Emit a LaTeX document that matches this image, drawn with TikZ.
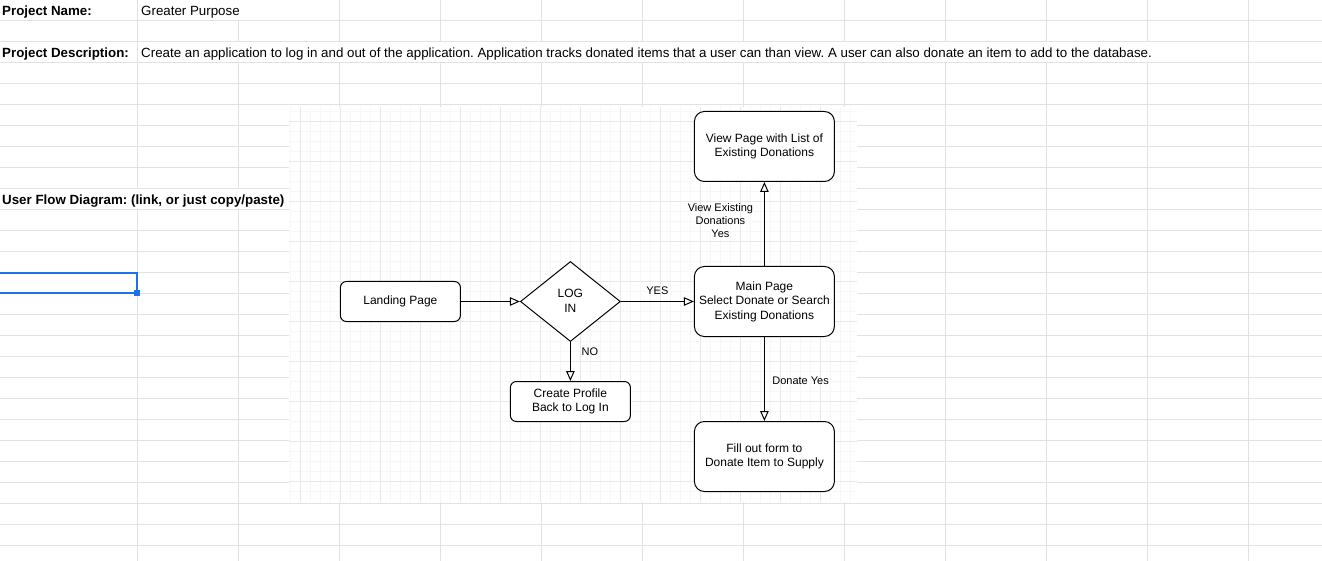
\documentclass[tikz,border=0pt]{standalone}
\usepackage{fontspec}
\setmainfont{Liberation Sans}
\frenchspacing
\usetikzlibrary{arrows.meta,shapes.geometric,positioning}
\definecolor{sheetgrid}{HTML}{E2E2E2}
\definecolor{gridmajor}{HTML}{E8E8E8}
\definecolor{gridminor}{HTML}{F7F7F7}
\definecolor{selblue}{HTML}{1A73E8}
\tikzset{
    page/.style={
        rectangle,
        rounded corners=6pt,
        draw=black,
        line width=1pt,
        fill=white,
        minimum width=120pt,
        minimum height=40pt,
        inner sep=0pt,
        align=center,
        font=\fontsize{12}{14.5}\selectfont,
    },
    bigpage/.style={
        page,
        rounded corners=10pt,
        minimum width=140pt,
        minimum height=70pt,
    },
    decision/.style={
        diamond,
        draw=black,
        line width=1pt,
        fill=white,
        minimum width=100pt,
        minimum height=80pt,
        inner sep=0pt,
        align=center,
        font=\fontsize{12}{15}\selectfont,
    },
    flowlabel/.style={
        inner sep=0pt,
        align=center,
        font=\fontsize{11}{13}\selectfont,
    },
    sheettext/.style={
        inner sep=0pt,
        anchor=base west,
        font=\fontsize{13.33}{16}\selectfont,
    },
    sheetbold/.style={
        sheettext,
        font=\fontsize{13.33}{16}\selectfont\bfseries,
    },
    every edge/.style={
        draw,
        -{Triangle[open,length=10pt,width=8.5pt]},
        line width=1pt,
    },
}
\begin{document}
\begin{tikzpicture}[x=1pt,y=-1pt]
    \useasboundingbox (0,0) rectangle (1322,561);
    \fill[white] (0,0) rectangle (1322,561);
    % sheet cells
    \foreach \r in {0,...,25}
        \draw[sheetgrid, line width=1pt] (0,{20.7+21*\r}) -- (1322,{20.7+21*\r});
    \foreach \cx in {137,238,...,1248}
        \draw[sheetgrid, line width=1pt] (\cx,0) -- (\cx,561);
    \fill[white] (138,0) rectangle (338,20.2);
    \fill[white] (138,42.2) rectangle (1247,62.2);
    \fill[white] (0,189.2) rectangle (289,209.2);
    \node[sheetbold] (projname) at (2,15.3) {Project Name:};
    \node[sheettext] (projnamev) at (141,15.3) {Greater Purpose};
    \node[sheetbold] (projdesc) at (2,57.3) {Project Description:};
    \node[sheettext] (projdescv) at (141,57.3) {Create an application to log in and out of the application. Application tracks donated items that a user can than view. A user can also donate an item to add to the database.};
    \node[sheetbold] (flowhead) at (2,204.3) {User Flow Diagram: (link, or just copy/paste)};
    \draw[selblue, line width=2pt] (0,273) -- (136.7,273) -- (136.7,293) -- (0,293);
    \fill[selblue] (133.7,289.7) rectangle (139.7,295.7);
    % diagram canvas
    \fill[white] (289,107) rectangle (857,502);
    \foreach \x in {290,300,...,850}
        \draw[gridminor, line width=1pt] (\x,107) -- (\x,502);
    \foreach \k in {0,...,38}
        \draw[gridminor, line width=1pt] (289,{111.7+10*\k}) -- (857,{111.7+10*\k});
    \foreach \x in {300,340,...,820}
        \draw[gridmajor, line width=1pt] (\x,107) -- (\x,502);
    \foreach \k in {0,...,9}
        \draw[gridmajor, line width=1pt] (289,{121.7+40*\k}) -- (857,{121.7+40*\k});

    \node[page] (landing) at (400.4,301.5) {Landing Page};
    \node[decision, right of=landing, node distance=170pt] (login) {LOG\\IN\rule[-2pt]{0pt}{0pt}};
    \node[bigpage, right of=login, node distance=194pt] (mainpage) {Main Page\\Select Donate or Search\\Existing Donations};
    \node[bigpage, above of=mainpage, node distance=155pt] (viewlist) {View Page with List of\\Existing Donations};
    \node[bigpage, below of=mainpage, node distance=155pt] (donateform) {Fill out form to\\Donate Item to Supply};
    \node[page, below of=login, node distance=100pt] (createprofile) {Create Profile\\Back to Log In};
    \draw (landing) edge (login);
    \draw (login) edge node[flowlabel, yshift=10.5pt] {YES} (mainpage);
    \draw (login) edge node[flowlabel, pos=0.25, xshift=19.5pt] {NO} (createprofile);
    \draw (mainpage) edge node[flowlabel, pos=0.535, xshift=-44pt] {View Existing\\Donations\\Yes} (viewlist);
    \draw (mainpage) edge node[flowlabel, pos=0.523, xshift=36.2pt] {Donate Yes} (donateform);
\end{tikzpicture}
\end{document}
